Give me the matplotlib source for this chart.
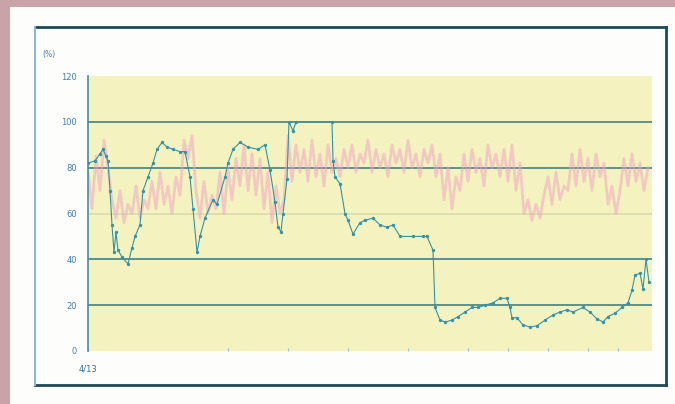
import matplotlib.pyplot as plt
from matplotlib.lines import Line2D
from matplotlib.patches import Rectangle
import numpy as np

# blue series: (day, %), 1 day = 2 px
blue_day = [0, 3.5, 6, 7.5, 9, 10, 11, 12, 13, 14, 15, 17, 20, 22, 23.5, 26,
            27.5, 30, 32.5, 34.5, 37, 39.5, 42.5, 46, 48.5, 51, 52.5, 54.5, 56,
            58.5, 62.5, 64.5, 68.5, 70, 72.5, 76, 80, 85, 88.5, 91, 93.5, 95,
            96.5, 97.5, 99.5, 100.5, 102.5, 104, 122, 122.5, 123.5, 126, 128.5,
            130, 132.5, 136, 138.5, 142.5, 146, 149.5, 152.5, 156, 162.5, 167.5,
            169.5, 172.5, 173.5, 176, 178.5, 182, 185, 188.5, 192, 195, 198.5,
            202.5, 206, 209.5, 211, 212, 214.5, 217.5, 221, 224.5, 228.5, 232.5,
            236, 239.5, 242.5, 247.5, 251, 254.5, 257.5, 260, 263.5, 267, 270,
            272, 273.5, 276, 277.5, 279, 280.5]
blue_val = [82, 83, 86, 88, 85, 83, 70, 55, 43, 52, 44, 41, 38, 45, 50, 55,
            70, 76, 82, 88, 91, 89, 88, 87, 87, 76, 62, 43, 50,
            58, 66, 64, 76, 82, 88, 91, 89, 88, 90, 79, 65, 54,
            52, 60, 75, 100, 96, 100, 100, 83, 76, 73, 60,
            57, 51, 56, 57, 58, 55, 54, 55, 50, 50, 50,
            50, 44, 19, 13.5, 12.6, 13.5, 15, 17, 19, 19, 20,
            21, 23, 23, 19, 14.5, 14.5, 11.3, 10.5, 11, 13.5, 15.7,
            17, 18, 17, 19, 17, 14, 12.7, 15, 16.5, 19, 21,
            26.6, 33, 34, 27, 40, 30]

# pink series: one reading every 2 days
pink_val = [78, 62, 85, 70, 92, 80,
            66, 58, 70, 56, 64, 60, 72, 58, 66, 62,
            74, 62, 78, 64, 72, 60, 76, 68,
            92, 84, 94,
            70, 58, 74, 60, 68,
            62, 78, 60, 80, 66, 84, 72,
            90, 70, 86, 68, 84,
            62, 78, 56, 72, 60, 66,
            94, 74, 90, 78,
            88, 74, 92, 76, 86, 72, 90, 78, 84,
            76, 88, 80, 90, 78, 86, 82, 92, 78, 88, 80, 86, 76, 90, 82, 88,
            78, 92, 80, 86, 76, 88, 82, 90, 76, 86,
            66, 80, 62, 76, 70,
            86, 74, 88, 78, 84, 72, 90, 80, 86, 76,
            88, 74, 90, 70, 82,
            60, 66, 57, 64, 58, 68,
            76, 64, 78, 66, 72, 70,
            86, 72, 88, 74, 84, 70, 86, 76, 82,
            64, 72, 60, 70,
            84, 72, 86, 74, 82, 70, 80]
pink_day = np.arange(len(pink_val)) * 2

y_ticks = [0, 20, 40, 60, 80, 100, 120]
y_labels = ["0", "20", "40", "60", "80", "100", "120"]
x_label_first = "4/13"

fig = plt.figure(figsize=(6.75, 4.04), dpi=100)
fig.patch.set_facecolor("#c9a3a7")

W, H = 675, 404
def fx(px):
    return px / W
def fy(py):
    return 1 - py / H

# white scanned panel
fig.patches.append(Rectangle((fx(10), 0), 1 - fx(10), fy(7), transform=fig.transFigure,
                             facecolor="#fdfdfb", edgecolor="none", zorder=-5))

# chart frame
frame = dict(transform=fig.transFigure, zorder=-4)
fig.lines.append(Line2D([fx(35), fx(666)], [fy(27), fy(27)], color="#1e4a55", lw=2, **frame))
fig.lines.append(Line2D([fx(35), fx(666)], [fy(385), fy(385)], color="#1e4a55", lw=2, **frame))
fig.lines.append(Line2D([fx(35), fx(35)], [fy(27), fy(385)], color="#8db8d4", lw=1.5, **frame))
fig.lines.append(Line2D([fx(666), fx(666)], [fy(27), fy(385)], color="#1e4a55", lw=2, **frame))

ax = fig.add_axes([fx(88), fy(351), fx(652) - fx(88), fy(76) - fy(351)])
ax.set_facecolor("#f4f3bf")
ax.set_xlim(0, 282)
ax.set_ylim(0, 120)

for v in [20, 40, 80, 100]:
    ax.axhline(v, color="#4e8a8c", lw=1.3, zorder=1)
ax.axhline(60, color="#d6dcb0", lw=1.2, zorder=1)

ax.plot(pink_day, pink_val, color="#f0a0c2", lw=2.0, alpha=0.5, zorder=2)
ax.plot(blue_day, blue_val, color="#3592a8", lw=0.8, marker="o", markersize=1.4,
        zorder=3)

for s in ["top", "right", "bottom"]:
    ax.spines[s].set_visible(False)
ax.spines["left"].set_color("#3d8fa8")
ax.spines["left"].set_linewidth(1.2)

ax.set_yticks(y_ticks)
ax.set_yticklabels(y_labels, fontsize=6, color="#3f7fae")
ax.tick_params(axis="y", length=0, pad=8)
ax.set_xticks([0, 70, 100, 130, 160, 190, 210, 230, 250, 265])
ax.set_xticklabels([x_label_first] + [""] * 9, fontsize=6, color="#2f6f9a")
ax.tick_params(axis="x", length=2, color="#9cc4d4", direction="in", pad=10)

fig.text(fx(42), fy(55), "(%)", fontsize=5.5, color="#3f7fae", va="center")

fig.savefig("out.png", dpi=100, facecolor=fig.get_facecolor())
